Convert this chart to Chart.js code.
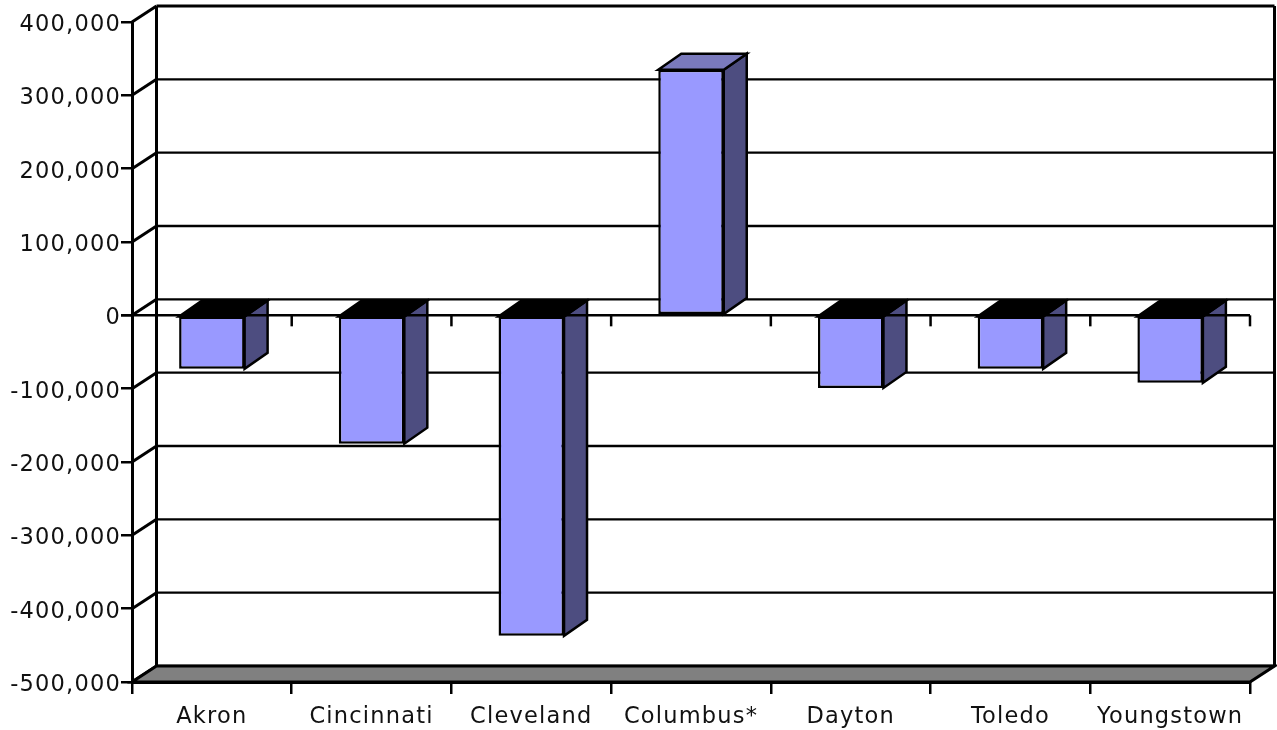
<!DOCTYPE html>
<html>
<head>
<meta charset="utf-8">
<style>html,body{margin:0;padding:0;background:#fff}canvas{display:block}</style>
<script src="https://cdn.jsdelivr.net/npm/chart.js@4"></script>
</head>
<body>
<canvas id="c" width="1277" height="730"></canvas>
<script>
const categories = ["Akron","Cincinnati","Cleveland","Columbus*","Dayton","Toledo","Youngstown"];
const values = [-73000,-175000,-437000,335000,-99000,-73000,-92000];
const yMin = -500000, yMax = 400000, yStep = 100000;

const WALL_DX = 24.5, WALL_DY = 16, BAR_DX = 23, BAR_DY = 16;
const INK = "#000000";
const LABEL_FONT = "22.5px 'DejaVu Sans'";
const LABEL_SPACING = "1.2px";

function poly(ctx, pts, fill, lw) {
  ctx.beginPath();
  pts.forEach((p, i) => i ? ctx.lineTo(p[0], p[1]) : ctx.moveTo(p[0], p[1]));
  ctx.closePath();
  if (fill) { ctx.fillStyle = fill; ctx.fill(); }
  ctx.lineWidth = lw; ctx.strokeStyle = INK; ctx.lineJoin = "miter"; ctx.stroke();
}
function seg(ctx, x1, y1, x2, y2, lw) {
  ctx.beginPath(); ctx.moveTo(x1, y1); ctx.lineTo(x2, y2);
  ctx.lineWidth = lw; ctx.strokeStyle = INK; ctx.stroke();
}

const box3d = {
  id: "box3d",
  beforeDraw(chart) { chart.ctx.letterSpacing = LABEL_SPACING; },
  beforeDatasetsDraw(chart) {
    const ctx = chart.ctx, a = chart.chartArea, ys = chart.scales.y;
    ctx.save();
    seg(ctx, a.left + WALL_DX, a.top - WALL_DY, a.left + WALL_DX, a.bottom - WALL_DY, 3);
    seg(ctx, a.right + WALL_DX, a.top - WALL_DY, a.right + WALL_DX, a.bottom - WALL_DY, 3);
    ys.ticks.forEach(t => {
      const y = ys.getPixelForValue(t.value);
      seg(ctx, a.left, y, a.left + WALL_DX, y - WALL_DY, 3);
      seg(ctx, a.left + WALL_DX, y - WALL_DY, a.right + WALL_DX, y - WALL_DY, t.value === yMax ? 3 : 2.4);
    });
    poly(ctx, [[a.left, a.bottom],[a.left + WALL_DX, a.bottom - WALL_DY],
               [a.right + WALL_DX, a.bottom - WALL_DY],[a.right, a.bottom]], "#808080", 3);
    chart.getDatasetMeta(0).data.forEach((b, i) => {
      const top = Math.min(b.y, b.base), bot = Math.max(b.y, b.base);
      const l = b.x - b.width / 2, r = b.x + b.width / 2;
      poly(ctx, [[r, top],[r + BAR_DX, top - BAR_DY],[r + BAR_DX, bot - BAR_DY],[r, bot]], "#4D4D80", 2.5);
      poly(ctx, [[l, top],[l + BAR_DX, top - BAR_DY],[r + BAR_DX, top - BAR_DY],[r, top]],
           values[i] < 0 ? "#000000" : "#7A7ABD", 2.5);
    });
    ctx.restore();
  },
  afterDatasetsDraw(chart) {
    const ctx = chart.ctx, a = chart.chartArea, ys = chart.scales.y, xs = chart.scales.x;
    const y0 = ys.getPixelForValue(0);
    ctx.save();
    seg(ctx, a.left - 11, y0, a.right, y0, 2.5);
    categories.forEach((c, i) => {
      const x = xs.getPixelForValue(i + 0.5);
      seg(ctx, x, y0, x, y0 + 11, 2.5);
    });
    ctx.font = LABEL_FONT;
    ctx.fillStyle = "#111";
    ctx.textAlign = "right";
    ctx.textBaseline = "middle";
    ys.ticks.forEach(t => {
      ctx.fillText(t.label, a.left - 11, ys.getPixelForValue(t.value) + 3);
    });
    ctx.restore();
  }
};

new Chart(document.getElementById("c"), {
  type: "bar",
  data: {
    labels: categories,
    datasets: [{
      data: values,
      backgroundColor: "#9999FF",
      borderColor: INK,
      borderWidth: 2.5,
      borderSkipped: false,
      barPercentage: 0.41,
      categoryPercentage: 1
    }]
  },
  plugins: [box3d],
  options: {
    responsive: false,
    animation: false,
    events: [],
    layout: { padding: { top: 22, right: 27, left: 0, bottom: 0 } },
    plugins: { legend: { display: false }, tooltip: { enabled: false }, title: { display: false } },
    scales: {
      x: {
        afterFit(s) { s.height = 48; },
        grid: { drawOnChartArea: false, offset: true, color: INK, lineWidth: 2.5, tickLength: 12 },
        border: { color: INK, width: 3 },
        ticks: { color: "#111", maxRotation: 0, autoSkip: false, padding: 10,
                 font: { family: "'DejaVu Sans'", size: 22.5 } }
      },
      y: {
        min: yMin, max: yMax,
        afterFit(s) { s.width = 132; },
        grid: { drawOnChartArea: false, color: INK, lineWidth: 2.5, tickLength: 11 },
        border: { color: INK, width: 3 },
        ticks: { stepSize: yStep, display: false,
                 callback: v => v.toLocaleString("en-US") }
      }
    }
  }
});
</script>
</body>
</html>
